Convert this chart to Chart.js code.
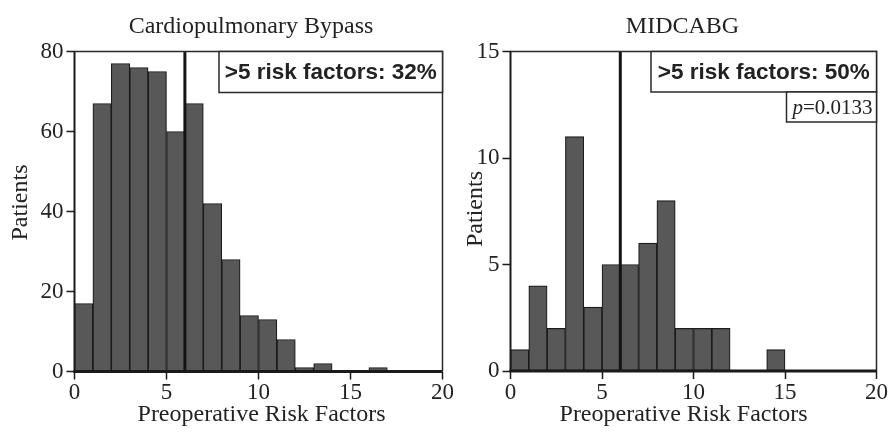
<!DOCTYPE html>
<html>
<head>
<meta charset="utf-8">
<title>Preoperative Risk Factors</title>
<script src="https://cdn.jsdelivr.net/npm/chart.js@4.4.1/dist/chart.umd.min.js"></script>
<style>
  html, body { margin: 0; padding: 0; background: #ffffff; width: 889px; height: 434px; overflow: hidden; }
  canvas { position: absolute; top: 0; }
  #cpb { left: 0; }
  #mid { left: 456px; }
</style>
</head>
<body>
<canvas id="cpb" width="456" height="434"></canvas>
<canvas id="mid" width="434" height="434"></canvas>
<script>
// Histogram bins: number of preoperative risk factors (bin start values)
const riskFactorBins = [0, 1, 2, 3, 4, 5, 6, 7, 8, 9, 10, 11, 12, 13, 14, 15, 16, 17, 18, 19];

// Patients per bin
const cpbPatients     = [17, 67, 77, 76, 75, 60, 67, 42, 28, 14, 13, 8, 1, 2, 0, 0, 1, 0, 0, 0];
const midcabgPatients = [1, 4, 2, 11, 3, 5, 5, 6, 8, 2, 2, 2, 0, 0, 1, 0, 0, 0, 0, 0];

// Axis ticks
const xTicks    = [0, 5, 10, 15, 20];
const cpbYTicks = [0, 20, 40, 60, 80];
const midYTicks = [0, 5, 10, 15];

// Patients with more than five risk factors fall right of this line
const cutoff = 6;
const pValue = '0.0133';

const SERIF = '"Liberation Serif", "Times New Roman", serif';
const SANS = '"Liberation Sans", Arial, sans-serif';
const INK = '#222222';

function shareAbove(counts) {
  let total = 0, above = 0;
  counts.forEach((v, i) => { total += v; if (riskFactorBins[i] >= cutoff) above += v; });
  return Math.round(100 * above / total) + '%';
}

// Cut-off line, plot frame, annotation boxes and captions for one panel
function panelDecor(decor) {
  return {
    id: 'panelDecor',
    afterDatasetsDraw(chart) {
      const { ctx, chartArea: a, scales: { x, y } } = chart;
      ctx.save();
      const cx = x.getPixelForValue(decor.cutoff);
      ctx.strokeStyle = '#141414';
      ctx.lineWidth = 3;
      ctx.beginPath(); ctx.moveTo(cx, a.top); ctx.lineTo(cx, a.bottom); ctx.stroke();

      // frame: thin top/right, heavier axes
      ctx.strokeStyle = '#2a2a2a';
      ctx.lineWidth = 1.5;
      ctx.beginPath();
      ctx.moveTo(a.left, a.top); ctx.lineTo(a.right, a.top); ctx.lineTo(a.right, a.bottom);
      ctx.stroke();
      ctx.strokeStyle = '#1a1a1a';
      ctx.lineWidth = 2;
      ctx.beginPath(); ctx.moveTo(a.left, a.top); ctx.lineTo(a.left, a.bottom + 1); ctx.stroke();
      const y0 = y.getPixelForValue(0);
      ctx.lineWidth = 3;
      ctx.beginPath(); ctx.moveTo(a.left - 1, y0); ctx.lineTo(a.right, y0); ctx.stroke();

      // annotation boxes stacked down from the top-right corner
      let by = a.top;
      decor.boxes.forEach(b => {
        const bx = a.right - b.width;
        ctx.fillStyle = '#ffffff';
        ctx.fillRect(bx, by, b.width, b.height);
        ctx.strokeStyle = '#2a2a2a';
        ctx.lineWidth = 1.5;
        ctx.strokeRect(bx, by, b.width, b.height);
        ctx.fillStyle = INK;
        ctx.textBaseline = 'middle';
        ctx.textAlign = 'left';
        let w = 0;
        b.parts.forEach(p => { ctx.font = p.font; w += ctx.measureText(p.text).width; });
        let tx = bx + b.width / 2 - w / 2 + (b.shift || 0);
        b.parts.forEach(p => {
          ctx.font = p.font;
          ctx.fillText(p.text, tx, by + b.height / 2 + 1);
          tx += ctx.measureText(p.text).width;
        });
        by += b.height;
      });
      ctx.restore();
    },
    afterDraw(chart) {
      const { ctx } = chart;
      ctx.save();
      ctx.fillStyle = INK;
      ctx.textBaseline = 'alphabetic';
      ctx.textAlign = 'center';
      ctx.font = '24px ' + SERIF;
      ctx.fillText(decor.title.text, decor.title.x, decor.title.y);
      ctx.fillText(decor.xLabel.text, decor.xLabel.x, decor.xLabel.y);
      ctx.translate(decor.yLabel.x, decor.yLabel.y);
      ctx.rotate(-Math.PI / 2);
      ctx.fillText(decor.yLabel.text, 0, 0);
      ctx.restore();
    }
  };
}

function makePanel(id, counts, yTicks, yAxisWidth, xAxisHeight, padRight, decor) {
  const yMax = yTicks[yTicks.length - 1];
  return new Chart(document.getElementById(id), {
    type: 'bar',
    data: {
      datasets: [{
        data: counts.map((v, i) => ({ x: riskFactorBins[i] + 0.5, y: v })),
        backgroundColor: '#585858',
        borderColor: '#1c1c1c',
        borderWidth: 1.2,
        borderSkipped: false,
        barPercentage: 1,
        categoryPercentage: 1
      }]
    },
    options: {
      responsive: false,
      animation: false,
      devicePixelRatio: 1,
      layout: { padding: { left: 0, top: 51.5, right: padRight, bottom: 0 } },
      plugins: {
        legend: { display: false },
        tooltip: { enabled: false },
        title: { display: false }
      },
      scales: {
        x: {
          type: 'linear',
          min: 0,
          max: 20,
          offset: false,
          afterBuildTicks: s => { s.ticks = xTicks.map(v => ({ value: v })); },
          afterFit: s => { s.height = xAxisHeight; },
          grid: { offset: false, drawOnChartArea: false, drawTicks: true, tickLength: 8, tickWidth: 1.5, tickColor: '#1a1a1a' },
          border: { display: false },
          ticks: { color: INK, padding: 2, maxRotation: 0, font: { family: SERIF, size: 23, lineHeight: 1 } }
        },
        y: {
          min: 0,
          max: yMax,
          afterBuildTicks: s => { s.ticks = yTicks.map(v => ({ value: v })); },
          afterFit: s => { s.width = yAxisWidth; },
          grid: { drawOnChartArea: false, drawTicks: true, tickLength: 8, tickWidth: 1.5, tickColor: '#1a1a1a' },
          border: { display: false },
          ticks: { color: INK, padding: 3, font: { family: SERIF, size: 23, lineHeight: 1 } }
        }
      }
    },
    plugins: [panelDecor(decor)]
  });
}

makePanel('cpb', cpbPatients, cpbYTicks, 74.5, 62.5, 13.3, {
  cutoff: cutoff,
  title: { text: 'Cardiopulmonary Bypass', x: 251, y: 33 },
  xLabel: { text: 'Preoperative Risk Factors', x: 261.5, y: 421 },
  yLabel: { text: 'Patients', x: 27, y: 202.5 },
  boxes: [
    { width: 223.5, height: 41, parts: [{ text: '>5 risk factors: ' + shareAbove(cpbPatients), font: 'bold 22.5px ' + SANS }] }
  ]
});

makePanel('mid', midcabgPatients, midYTicks, 54.5, 63, 12, {
  cutoff: cutoff,
  title: { text: 'MIDCABG', x: 682.5 - 456, y: 33 },
  xLabel: { text: 'Preoperative Risk Factors', x: 683.5 - 456, y: 421 },
  yLabel: { text: 'Patients', x: 481.5 - 456, y: 209 },
  boxes: [
    { width: 225.5, height: 40.5, parts: [{ text: '>5 risk factors: ' + shareAbove(midcabgPatients), font: 'bold 22.5px ' + SANS }] },
    { width: 90, height: 30, shift: 1, parts: [
      { text: 'p', font: 'italic 21px ' + SERIF },
      { text: '=' + pValue, font: '21px ' + SERIF }
    ] }
  ]
});
</script>
</body>
</html>
